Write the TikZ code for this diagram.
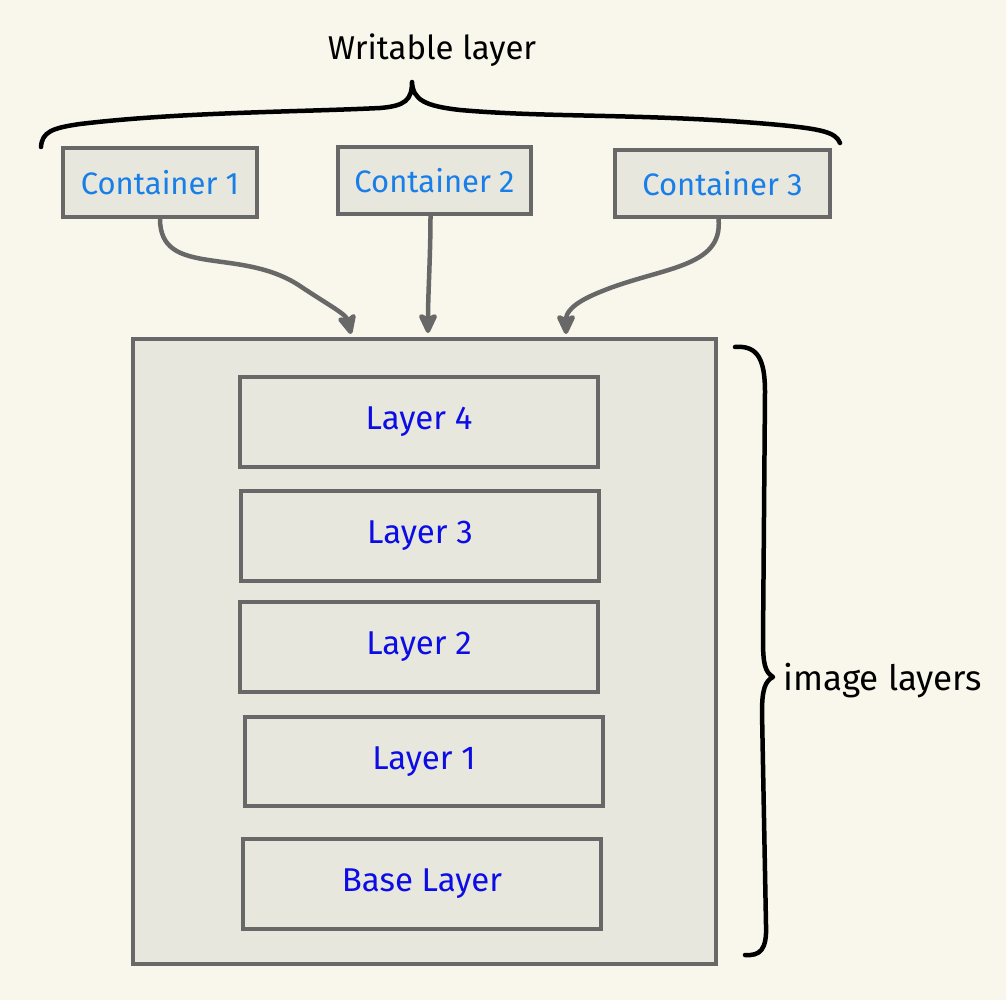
\documentclass[tikz,border=0pt]{standalone}
\usepackage{fontspec}
\setmainfont{Fira Sans}
\usetikzlibrary{arrows.meta}
\definecolor{bgc}{RGB}{249,247,235}
\definecolor{boxfill}{RGB}{232,231,221}
\definecolor{boxline}{RGB}{104,104,104}
\definecolor{ctext}{RGB}{24,126,232}
\definecolor{ltext}{RGB}{12,12,230}
\tikzset{
  cbox/.style={draw=boxline, fill=boxfill, line width=3.5pt, inner sep=0pt, text=ctext, font=\fontsize{31}{34}\selectfont},
  lbox/.style={draw=boxline, fill=boxfill, line width=3.5pt, inner sep=0pt, minimum width=358pt, minimum height=90pt, text=ltext, font=\fontsize{33}{36}\selectfont},
  arr/.style={draw=boxline, line width=4.5pt, -{Stealth[length=24pt,width=22pt,inset=5pt,round]}},
  brc/.style={draw=black, line width=4.5pt, line cap=round, line join=round},
  lbl/.style={text=black, font=\fontsize{33}{36}\selectfont}
}
\begin{document}
\begin{tikzpicture}[x=1pt,y=-1pt]
\fill[bgc] (0,0) rectangle (1006,1000);
\useasboundingbox (0,0) rectangle (1006,1000);

% containers
\node[cbox, minimum width=194pt, minimum height=69pt] (c1) at (160,182.5) {Container 1};
\node[cbox, minimum width=193pt, minimum height=67pt] (c2) at (434.5,180.5) {Container 2};
\node[cbox, minimum width=215pt, minimum height=67pt] (c3) at (722.5,183.5) {Container 3};

% image box
\node[draw=boxline, fill=boxfill, line width=3.5pt, minimum width=583pt, minimum height=625pt, inner sep=0pt] (img) at (424.5,651.5) {};
\node[lbox] (l4) at (419,422) {Layer 4};
\node[lbox] (l3) at (420,536) {Layer 3};
\node[lbox] (l2) at (419,647) {Layer 2};
\node[lbox, minimum height=89pt] (l1) at (424,761.5) {Layer 1};
\node[lbox] (base) at (422,884) {Base Layer};

% arrow end points
\coordinate (e1) at (351,334);
\coordinate (e2) at (428,333);
\coordinate (e3) at (566,334);

\draw[arr] ([xshift=0pt]c1.south) .. controls +(0,60) and +(-60,-40) .. (300,286) .. controls +(30,20) and +(-5,-20) .. (e1);
\draw[arr] ([xshift=-4pt]c2.south) .. controls +(0,40) and +(0,-40) .. (e2);
\draw[arr] ([xshift=-4pt]c3.south) .. controls +(5,50) and +(60,-25) .. (600,292) .. controls +(-30,12) and +(0,-20) .. (e3);

% top brace
\draw[brc] (41,147) .. controls (42,132) and (52,128) .. (80,124)
  .. controls (180,112) and (300,112) .. (380,108)
  .. controls (405,106) and (412,100) .. (412,82)
  .. controls (413,100) and (425,106) .. (460,110)
  .. controls (550,118) and (650,113) .. (780,125)
  .. controls (820,129) and (836,132) .. (840,143);
\node[lbl] (wl) at (432,50) {Writable layer};

% right brace
\draw[brc] (735,347) .. controls (758,345) and (765,360) .. (765,392)
  -- (763,640) .. controls (763,664) and (765,672) .. (773,677)
  .. controls (765,681) and (762,690) .. (762,712)
  -- (766,925) .. controls (767,950) and (760,956) .. (745,955);
\node[lbl, anchor=west, font=\fontsize{35}{38}\selectfont] (il) at (780,681) {image layers};
\end{tikzpicture}
\end{document}
